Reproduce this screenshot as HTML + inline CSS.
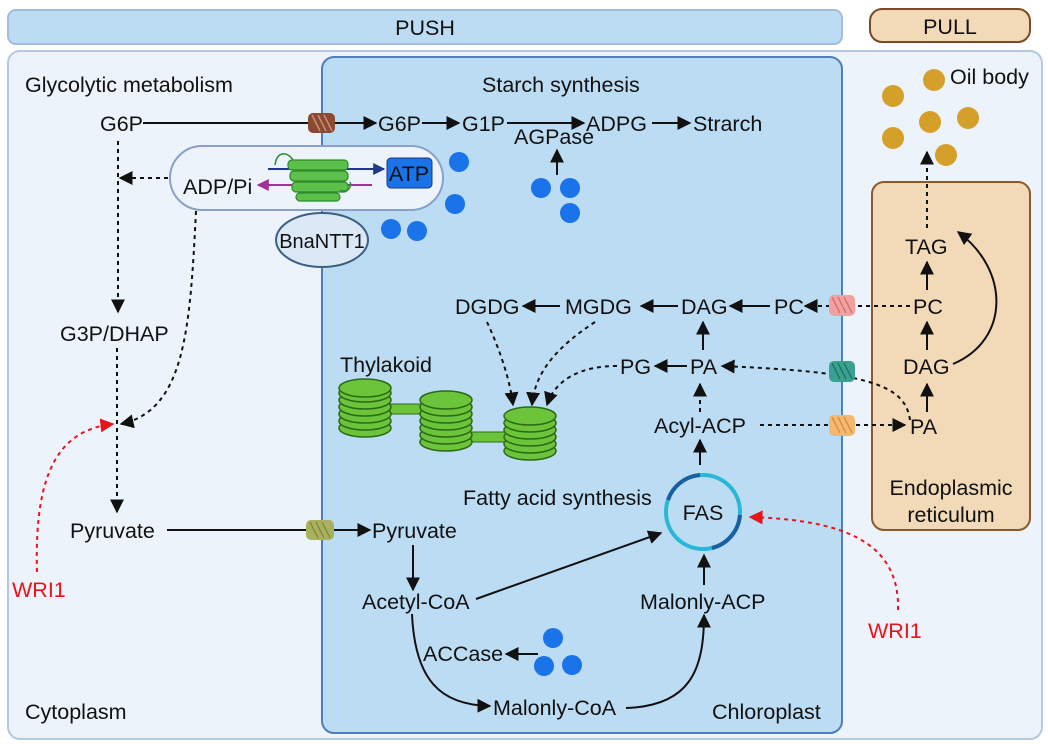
<!DOCTYPE html>
<html><head><meta charset="utf-8"><style>
html,body{margin:0;padding:0;background:#fff;}
svg{display:block;}
text{font-family:"Liberation Sans","DejaVu Sans",sans-serif;font-size:21.5px;fill:#111;}
</style></head><body>
<svg width="1048" height="744" viewBox="0 0 1048 744" xmlns="http://www.w3.org/2000/svg">
<defs>
<marker id="a" viewBox="0 0 10 10" refX="9" refY="5" markerWidth="7" markerHeight="7" orient="auto-start-reverse"><path d="M0,0L10,5L0,10z" fill="#111"/></marker>
<marker id="r" viewBox="0 0 10 10" refX="9" refY="5" markerWidth="7" markerHeight="7" orient="auto"><path d="M0,0L10,5L0,10z" fill="#e8141b"/></marker>
<marker id="nb" viewBox="0 0 10 10" refX="9" refY="5" markerWidth="6" markerHeight="6" orient="auto"><path d="M0,0L10,5L0,10z" fill="#1f3a8a"/></marker>
<marker id="pm" viewBox="0 0 10 10" refX="9" refY="5" markerWidth="6" markerHeight="6" orient="auto"><path d="M0,0L10,5L0,10z" fill="#a0309a"/></marker>
<g id="disk"><ellipse cx="0" cy="0" rx="26" ry="9" fill="#6cc43a" stroke="#2c6a17" stroke-width="1.5"/></g>
</defs>
<!-- headers -->
<rect x="8" y="10" width="834" height="34" rx="8" fill="#bcdcf3" stroke="#a4bcdc" stroke-width="2"/>
<text x="425" y="35" text-anchor="middle">PUSH</text>
<rect x="870" y="9" width="160" height="33" rx="12" fill="#f2d9b8" stroke="#7a4a24" stroke-width="2"/>
<text x="950" y="34" text-anchor="middle">PULL</text>
<!-- outer -->
<rect x="8" y="51" width="1034" height="688" rx="12" fill="#edf3fb" stroke="#b6c8e0" stroke-width="2"/>
<rect x="322" y="57" width="520" height="676" rx="12" fill="#bcdcf3" stroke="#4f7fb8" stroke-width="2"/>
<rect x="872" y="182" width="158" height="348" rx="12" fill="#f2d9b8" stroke="#8a5a2e" stroke-width="2"/>
<!-- labels -->
<text x="25" y="92">Glycolytic metabolism</text>
<text x="482" y="92">Starch synthesis</text>
<text x="950" y="84">Oil body</text>
<text x="25" y="719">Cytoplasm</text>
<text x="712" y="719">Chloroplast</text>
<text x="951" y="495" text-anchor="middle">Endoplasmic</text>
<text x="951" y="522" text-anchor="middle">reticulum</text>
<!-- starch line -->
<text x="100" y="131">G6P</text>
<line x1="143" y1="123" x2="376" y2="123" stroke="#111" stroke-width="2" marker-end="url(#a)"/>
<rect x="308" y="113" width="27" height="20" rx="5" fill="#8a4a32"/>
<path d="M312,115l8,16M318,115l8,16M324,115l8,16" stroke="#c89070" stroke-width="1.5"/>
<text x="378" y="131">G6P</text>
<line x1="422" y1="123" x2="459" y2="123" stroke="#111" stroke-width="2" marker-end="url(#a)"/>
<text x="462" y="131">G1P</text>
<line x1="507" y1="123" x2="584" y2="123" stroke="#111" stroke-width="2" marker-end="url(#a)"/>
<text x="514" y="144">AGPase</text>
<line x1="557" y1="175" x2="557" y2="150" stroke="#111" stroke-width="2" marker-end="url(#a)"/>
<text x="586" y="131">ADPG</text>
<line x1="652" y1="123" x2="690" y2="123" stroke="#111" stroke-width="2" marker-end="url(#a)"/>
<text x="693" y="131">Strarch</text>
<g fill="#1a73e8"><circle cx="541" cy="188" r="10"/><circle cx="570" cy="188" r="10"/><circle cx="570" cy="213" r="10"/>
<circle cx="459" cy="162" r="10"/><circle cx="455" cy="204" r="10"/><circle cx="391" cy="229" r="10"/><circle cx="417" cy="231" r="10"/>
<circle cx="553" cy="638" r="10"/><circle cx="544" cy="666" r="10"/><circle cx="572" cy="665" r="10"/></g>
<!-- capsule -->
<rect x="170" y="146" width="273" height="64" rx="32" fill="#edf3fb" stroke="#8aa0c8" stroke-width="2"/>
<text x="183" y="194">ADP/Pi</text>
<line x1="268" y1="169" x2="384" y2="169" stroke="#1f3a8a" stroke-width="2" marker-end="url(#nb)"/>
<line x1="372" y1="185" x2="258" y2="185" stroke="#a0309a" stroke-width="2" marker-end="url(#pm)"/>
<g fill="#5cc04a" stroke="#2c8a2a" stroke-width="1.2">
<rect x="288" y="160" width="60" height="10" rx="4"/><rect x="290" y="171" width="58" height="10" rx="4"/><rect x="292" y="182" width="56" height="10" rx="4"/><rect x="296" y="193" width="44" height="8" rx="4"/>
</g>
<path d="M275,165c2,-14 12,-14 18,-5M340,190c8,4 12,-4 10,-8" fill="none" stroke="#2c8a2a" stroke-width="1.5"/>
<rect x="387" y="158" width="45" height="30" rx="4" fill="#1a73e8" stroke="#1a3a7a" stroke-width="1"/>
<text x="409" y="181" text-anchor="middle">ATP</text>
<ellipse cx="322" cy="240" rx="46" ry="27" fill="#dbe9f7" stroke="#3d5f80" stroke-width="2"/>
<text x="322" y="248" text-anchor="middle" style="font-size:20px">BnaNTT1</text>
<!-- glycolysis -->
<line x1="118" y1="141" x2="118" y2="312" stroke="#111" stroke-width="2" stroke-dasharray="4,4" marker-end="url(#a)"/>
<line x1="168" y1="178" x2="120" y2="178" stroke="#111" stroke-width="2" stroke-dasharray="4,4" marker-end="url(#a)"/>
<text x="60" y="341">G3P/DHAP</text>
<path d="M196,211C190,330 185,410 121,424" fill="none" stroke="#111" stroke-width="2" stroke-dasharray="4,4" marker-end="url(#a)"/>
<line x1="117" y1="348" x2="117" y2="512" stroke="#111" stroke-width="2" stroke-dasharray="4,4" marker-end="url(#a)"/>
<path d="M37,572C34,470 60,430 113,424" fill="none" stroke="#e8141b" stroke-width="2" stroke-dasharray="4,4" marker-end="url(#r)"/>
<text x="12" y="597" style="fill:#e8141b">WRI1</text>
<text x="70" y="538">Pyruvate</text>
<line x1="167" y1="530" x2="370" y2="530" stroke="#111" stroke-width="2" marker-end="url(#a)"/>
<rect x="306" y="520" width="28" height="20" rx="5" fill="#a9b060"/>
<path d="M310,522l8,16M316,522l8,16M322,522l8,16" stroke="#7a8a30" stroke-width="1.2"/>
<text x="372" y="538">Pyruvate</text>
<line x1="413" y1="545" x2="413" y2="590" stroke="#111" stroke-width="2" marker-end="url(#a)"/>
<text x="362" y="609">Acetyl-CoA</text>
<line x1="476" y1="599" x2="661" y2="533" stroke="#111" stroke-width="2" marker-end="url(#a)"/>
<path d="M412,614C415,680 440,705 490,706" fill="none" stroke="#111" stroke-width="2" marker-end="url(#a)"/>
<text x="493" y="715">Malonly-CoA</text>
<path d="M626,708C690,706 704,670 704,615" fill="none" stroke="#111" stroke-width="2" marker-end="url(#a)"/>
<text x="640" y="609">Malonly-ACP</text>
<line x1="704" y1="585" x2="704" y2="555" stroke="#111" stroke-width="2" marker-end="url(#a)"/>
<text x="423" y="661">ACCase</text>
<line x1="538" y1="654" x2="506" y2="654" stroke="#111" stroke-width="2" marker-end="url(#a)"/>
<!-- FAS -->
<circle cx="703" cy="512" r="37" fill="none" stroke="#29b7d6" stroke-width="4"/>
<path d="M668,500A37,37 0 0 1 700,475M740,515A37,37 0 0 1 712,548" fill="none" stroke="#1a5fa0" stroke-width="4"/>
<text x="703" y="520" text-anchor="middle">FAS</text>
<text x="463" y="505">Fatty acid synthesis</text>
<line x1="700" y1="465" x2="700" y2="440" stroke="#111" stroke-width="2" marker-end="url(#a)"/>
<text x="654" y="433">Acyl-ACP</text>
<line x1="700" y1="412" x2="700" y2="384" stroke="#111" stroke-width="2" stroke-dasharray="4,4" marker-end="url(#a)"/>
<path d="M898,610C900,540 840,520 750,517" fill="none" stroke="#e8141b" stroke-width="2" stroke-dasharray="4,4" marker-end="url(#r)"/>
<text x="868" y="638" style="fill:#e8141b">WRI1</text>
<!-- lipids -->
<text x="690" y="374">PA</text>
<text x="620" y="374">PG</text>
<line x1="687" y1="366" x2="655" y2="366" stroke="#111" stroke-width="2" marker-end="url(#a)"/>
<text x="681" y="314">DAG</text>
<line x1="703" y1="350" x2="703" y2="322" stroke="#111" stroke-width="2" marker-end="url(#a)"/>
<text x="565" y="314">MGDG</text>
<text x="455" y="314">DGDG</text>
<line x1="678" y1="306" x2="641" y2="306" stroke="#111" stroke-width="2" marker-end="url(#a)"/>
<line x1="560" y1="306" x2="523" y2="306" stroke="#111" stroke-width="2" marker-end="url(#a)"/>
<text x="774" y="314">PC</text>
<line x1="770" y1="306" x2="730" y2="306" stroke="#111" stroke-width="2" marker-end="url(#a)"/>
<line x1="910" y1="306" x2="805" y2="306" stroke="#111" stroke-width="2" stroke-dasharray="4,4" marker-end="url(#a)"/>
<rect x="829" y="295" width="26" height="21" rx="5" fill="#f2a0a0"/>
<path d="M832,297l8,16M838,297l8,16M844,297l8,16" stroke="#d06a6a" stroke-width="1.2"/>
<path d="M910,420C905,385 870,372 722,366" fill="none" stroke="#111" stroke-width="2" stroke-dasharray="4,4" marker-end="url(#a)"/>
<rect x="829" y="361" width="26" height="21" rx="5" fill="#3aa090"/>
<path d="M832,363l8,16M838,363l8,16M844,363l8,16" stroke="#1e6a5e" stroke-width="1.2"/>
<line x1="760" y1="425" x2="905" y2="425" stroke="#111" stroke-width="2" stroke-dasharray="4,4" marker-end="url(#a)"/>
<rect x="829" y="415" width="26" height="21" rx="5" fill="#f5b870"/>
<path d="M832,417l8,16M838,417l8,16M844,417l8,16" stroke="#d08a3a" stroke-width="1.2"/>
<text x="910" y="434">PA</text>
<line x1="927" y1="412" x2="927" y2="384" stroke="#111" stroke-width="2" marker-end="url(#a)"/>
<text x="903" y="374">DAG</text>
<line x1="927" y1="350" x2="927" y2="322" stroke="#111" stroke-width="2" marker-end="url(#a)"/>
<text x="913" y="314">PC</text>
<line x1="927" y1="290" x2="927" y2="262" stroke="#111" stroke-width="2" marker-end="url(#a)"/>
<text x="905" y="254">TAG</text>
<path d="M953,364C1010,340 1010,270 958,232" fill="none" stroke="#111" stroke-width="2" marker-end="url(#a)"/>
<line x1="927" y1="228" x2="927" y2="152" stroke="#111" stroke-width="2" stroke-dasharray="4,4" marker-end="url(#a)"/>
<g fill="#d4a02a"><circle cx="893" cy="96" r="11"/><circle cx="934" cy="80" r="11"/><circle cx="930" cy="122" r="11"/><circle cx="893" cy="138" r="11"/><circle cx="968" cy="118" r="11"/><circle cx="946" cy="155" r="11"/></g>
<!-- thylakoid arrows -->
<path d="M487,322C500,350 510,380 513,405" fill="none" stroke="#111" stroke-width="2" stroke-dasharray="4,4" marker-end="url(#a)"/>
<path d="M595,322C560,345 535,370 532,405" fill="none" stroke="#111" stroke-width="2" stroke-dasharray="4,4" marker-end="url(#a)"/>
<path d="M617,366C580,366 555,380 547,405" fill="none" stroke="#111" stroke-width="2" stroke-dasharray="4,4" marker-end="url(#a)"/>
<text x="340" y="372">Thylakoid</text>
<rect x="380" y="404" width="50" height="10" fill="#6cc43a" stroke="#2c6a17"/>
<rect x="465" y="432" width="50" height="10" fill="#6cc43a" stroke="#2c6a17"/>
<g>
<use href="#disk" x="365" y="428"/><use href="#disk" x="365" y="421"/><use href="#disk" x="365" y="414"/><use href="#disk" x="365" y="407"/><use href="#disk" x="365" y="400"/><use href="#disk" x="365" y="393"/><use href="#disk" x="365" y="388"/>
<use href="#disk" x="446" y="442"/><use href="#disk" x="446" y="435"/><use href="#disk" x="446" y="428"/><use href="#disk" x="446" y="421"/><use href="#disk" x="446" y="414"/><use href="#disk" x="446" y="407"/><use href="#disk" x="446" y="400"/>
<use href="#disk" x="530" y="451"/><use href="#disk" x="530" y="444"/><use href="#disk" x="530" y="437"/><use href="#disk" x="530" y="430"/><use href="#disk" x="530" y="423"/><use href="#disk" x="530" y="416"/>
</g>
</svg>
</body></html>
